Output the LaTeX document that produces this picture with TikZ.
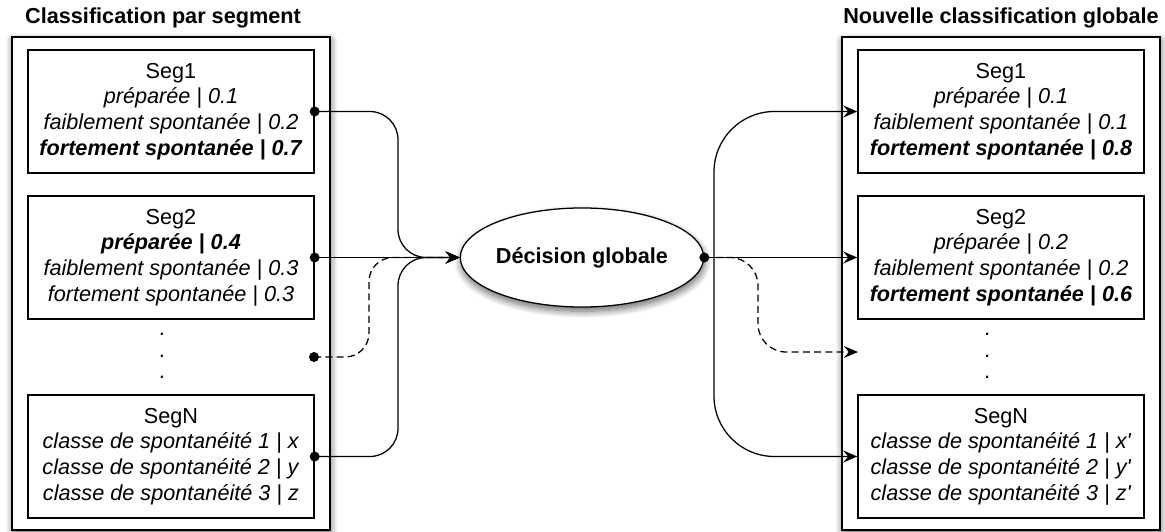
\documentclass[tikz,border=0pt]{standalone}
\usepackage{fontspec}
\setmainfont{Liberation Sans}
\usetikzlibrary{arrows.meta,shapes.geometric,shadows.blur}

\begin{document}
\begin{tikzpicture}[x=0.025cm,y=-0.025cm,
    font=\fontsize{15.4}{18.3}\selectfont,
    cadre/.style={draw=black,line width=1.3pt,fill=white,minimum width=7.95cm,minimum height=12.325cm,inner sep=0pt,
      blur shadow={shadow xshift=0.5pt,shadow yshift=-2.5pt,shadow blur steps=10,shadow blur radius=5pt,shadow opacity=60}},
    seg/.style={draw=black,line width=0.9pt,fill=white,minimum width=7.15cm,minimum height=3.075cm,align=center,inner sep=0pt},
    points/.style={align=center,font=\fontsize{15.4}{15.3}\selectfont\itshape},
    pt/.style={circle,fill=black,inner sep=0pt,minimum size=0.25cm},
    lien/.style={line width=0.9pt,-{Stealth[length=10pt,width=8.5pt,inset=3.5pt]}},
    tirets/.style={dash pattern=on 5pt off 3pt}]
  \useasboundingbox (0,0) rectangle (1165,532);

  \node[cadre] (gauche) at (171,283.5) {};
  \node[cadre] (droite) at (1001,283.5) {};
  \node[font=\fontsize{15.4}{18.3}\selectfont\bfseries] (titreg) at (163,18) {Classification par segment};
  \node[font=\fontsize{15.4}{18.3}\selectfont\bfseries] (titred) at (1001,18) {Nouvelle classification globale};

  % segments avant
  \node[seg] (s1) at (171,111.5) {Seg1\\ \textit{préparée | 0.1}\\ \textit{faiblement spontanée | 0.2}\\ \textbf{\textit{fortement spontanée | 0.7}}};
  \node[seg] (s2) at (171,257.5) {Seg2\\ \textbf{\textit{préparée | 0.4}}\\ \textit{faiblement spontanée | 0.3}\\ \textit{fortement spontanée | 0.3}};
  \node[points] (pointsg) at (163,356) {.\\.\\.};
  \node[seg] (sN) at (171,456.5) {SegN\\ \textit{classe de spontanéité 1 | x}\\ \textit{classe de spontanéité 2 | y}\\ \textit{classe de spontanéité 3 | z}};

  % segments apres
  \node[seg] (t1) at (1001,111.5) {Seg1\\ \textit{préparée | 0.1}\\ \textit{faiblement spontanée | 0.1}\\ \textbf{\textit{fortement spontanée | 0.8}}};
  \node[seg] (t2) at (1001,257.5) {Seg2\\ \textit{préparée | 0.2}\\ \textit{faiblement spontanée | 0.2}\\ \textbf{\textit{fortement spontanée | 0.6}}};
  \node[points] (pointsd) at (988,356) {.\\.\\.};
  \node[seg] (tN) at (1001,456.5) {SegN\\ \textit{classe de spontanéité 1 | x\textquotesingle}\\ \textit{classe de spontanéité 2 | y\textquotesingle}\\ \textit{classe de spontanéité 3 | z\textquotesingle}};

  \node[ellipse,draw=black,line width=0.9pt,fill=white,minimum width=5.975cm,minimum height=2.475cm,inner sep=0pt,
    blur shadow={shadow xshift=0.5pt,shadow yshift=-3pt,shadow blur steps=10,shadow blur radius=5pt,shadow opacity=60},
    font=\fontsize{15.4}{18.3}\selectfont\bfseries] (dec) at (582,257.5) {Décision globale};

  % vers la decision
  \coordinate (jl) at (398,257.5);
  \coordinate (jd) at (369,257.5);
  \coordinate (pg) at (314,357);
  \draw[lien,rounded corners=20pt] (s1.east) -| (jl) -- (dec.west);
  \draw[lien] (s2.east) -- (dec.west);
  \draw[lien,tirets,rounded corners=17pt] (pg) -| (jd) -- (dec.west);
  \draw[lien,rounded corners=20pt] (sN.east) -| (jl) -- (dec.west);
  \node[pt] (p1) at (s1.east) {};
  \node[pt] (p2) at (s2.east) {};
  \node[pt] (p3) at (pg) {};
  \node[pt] (p4) at (sN.east) {};

  % depuis la decision
  \coordinate (jr) at (714,257.5);
  \coordinate (jdr) at (758,352);
  \coordinate (rd) at (858,352);
  \draw[lien,rounded corners=43pt] (jr) |- (t1.west);
  \draw[lien] (dec.east) -- (t2.west);
  \draw[lien,tirets,rounded corners=20pt] (dec.east) -| (jdr) -- (rd);
  \draw[lien,rounded corners=43pt] (jr) |- (tN.west);
  \node[pt] (p5) at (dec.east) {};
\end{tikzpicture}
\end{document}
